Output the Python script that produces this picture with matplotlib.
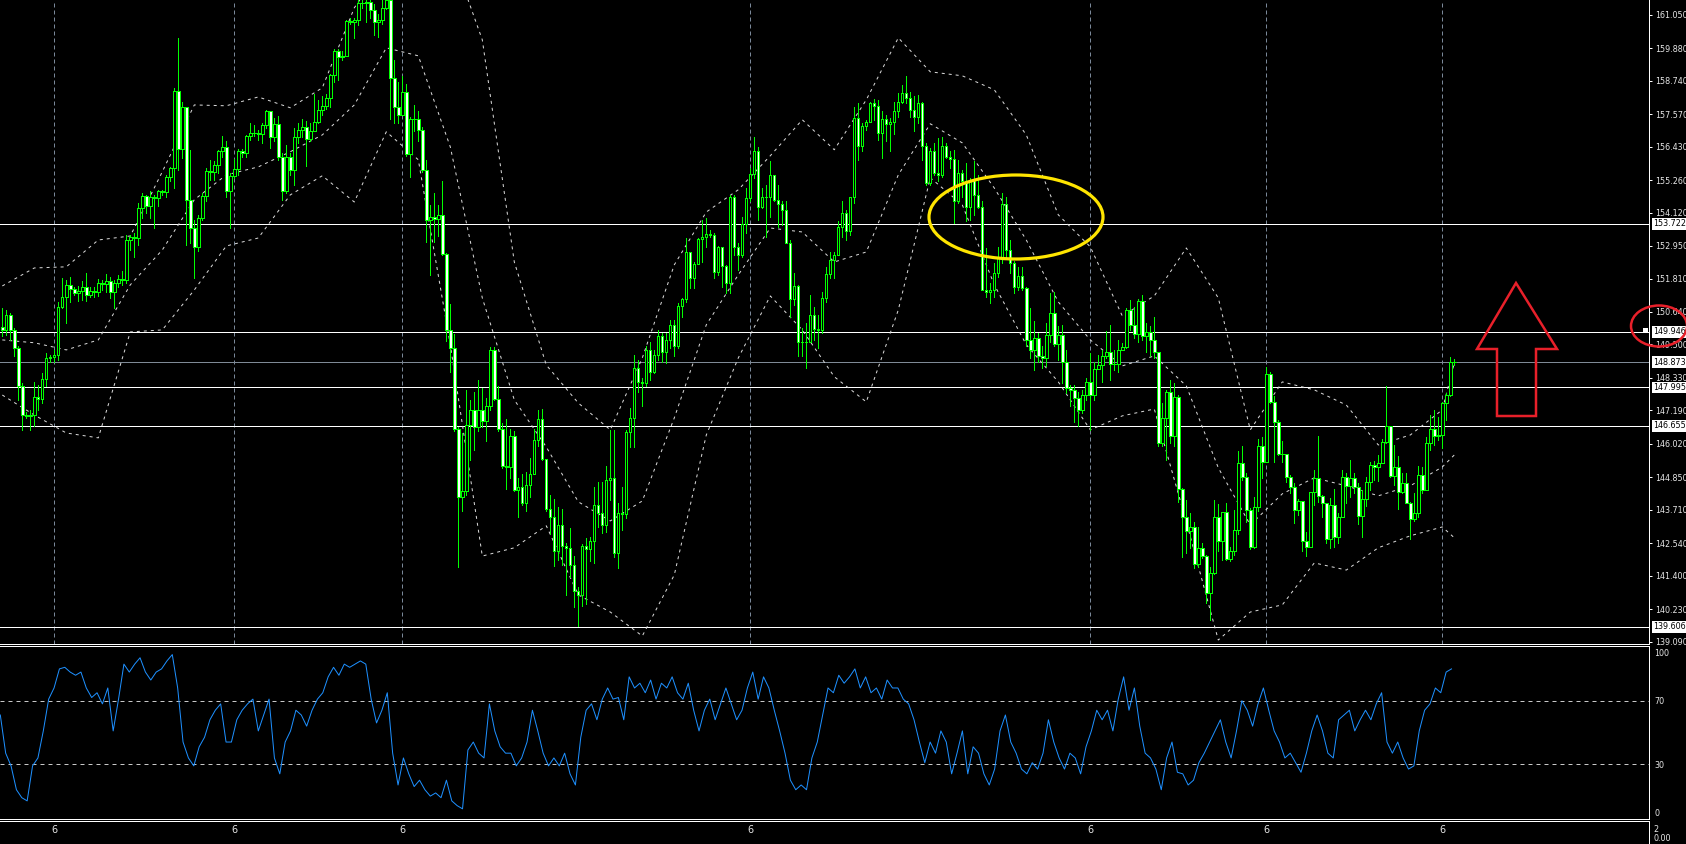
import numpy as np
import matplotlib
matplotlib.use("Agg")
from matplotlib import pyplot as plt
from matplotlib import transforms, font_manager
from matplotlib.patches import Ellipse, Polygon, Rectangle

# --- candles (open of each bar = close of the previous one) ---
first_open = 150.10
closes = [
    150.00, 150.54, 150.01, 149.37, 148.03, 147.04, 146.98, 147.02, 147.65, 147.60,
    148.28, 149.02, 149.06, 149.14, 150.81, 151.18, 151.58, 151.44, 151.30, 151.38,
    151.50, 151.24, 151.38, 151.33, 151.67, 151.62, 151.72, 151.33, 151.67, 151.79,
    151.76, 153.17, 153.26, 153.22, 154.27, 154.71, 154.36, 154.68, 154.62, 154.88,
    154.85, 155.38, 155.67, 158.38, 156.34, 157.83, 154.57, 153.57, 152.93, 153.92,
    154.71, 155.58, 155.53, 155.79, 156.26, 156.41, 154.86, 155.41, 155.64, 156.29,
    156.22, 156.81, 156.90, 156.92, 156.87, 157.18, 157.66, 156.78, 157.21, 156.08,
    154.86, 156.08, 155.62, 156.76, 157.02, 157.10, 156.68, 156.99, 157.30, 157.72,
    157.86, 158.12, 158.94, 159.77, 159.56, 159.62, 160.82, 160.80, 160.86, 161.45,
    161.45, 161.50, 161.21, 160.78, 160.85, 161.28, 161.55, 158.84, 157.83, 157.55,
    158.33, 156.18, 157.40, 157.40, 157.00, 155.60, 153.87, 153.95, 153.90, 154.02,
    152.68, 149.99, 149.37, 146.54, 144.17, 144.38, 146.68, 147.19, 146.61, 147.19,
    146.83, 147.33, 149.31, 147.59, 146.54, 145.24, 145.20, 146.29, 144.42, 144.52,
    143.95, 144.57, 144.96, 146.15, 146.90, 145.49, 143.73, 143.45, 142.27, 143.19,
    142.44, 142.38, 141.79, 140.86, 140.72, 142.44, 142.35, 142.60, 143.88, 143.59,
    143.18, 144.76, 144.82, 142.19, 143.61, 143.55, 146.45, 146.92, 148.67, 148.20,
    148.16, 149.31, 148.55, 149.14, 149.78, 149.25, 149.66, 150.19, 149.43, 150.85,
    151.09, 152.75, 151.82, 152.32, 153.19, 153.26, 153.37, 153.34, 152.05, 152.90,
    152.26, 151.65, 154.68, 152.93, 152.64, 153.72, 154.62, 155.48, 156.26, 154.33,
    154.68, 154.66, 155.44, 154.56, 154.41, 154.20, 153.07, 151.09, 151.55, 149.60,
    149.58, 149.60, 150.54, 150.04, 150.02, 151.14, 151.97, 152.46, 152.64, 153.61,
    154.10, 153.46, 154.68, 157.42, 156.46, 157.16, 157.28, 157.95, 157.85, 156.90,
    157.39, 157.23, 157.30, 157.66, 158.01, 158.32, 158.13, 157.72, 157.48, 157.95,
    156.46, 155.15, 156.29, 155.50, 155.45, 156.46, 156.08, 156.00, 154.54, 155.50,
    155.24, 154.33, 155.27, 154.72, 154.33, 151.41, 151.35, 151.40, 151.99, 152.58,
    154.43, 152.82, 152.35, 151.52, 151.90, 151.47, 149.66, 149.31, 149.72, 149.08,
    149.02, 149.84, 150.60, 149.52, 149.84, 148.90, 147.97, 147.92, 147.62, 147.19,
    147.73, 148.20, 147.73, 148.63, 148.77, 149.10, 149.22, 148.82, 148.80, 149.29,
    149.40, 150.71, 150.19, 149.87, 151.04, 149.80, 149.94, 149.64, 149.25, 146.04,
    146.92, 147.82, 146.28, 147.67, 144.43, 143.45, 142.98, 143.10, 141.82, 142.36,
    142.10, 140.79, 141.51, 143.45, 142.60, 143.65, 141.98, 142.25, 143.01, 145.36,
    144.87, 143.71, 142.40, 143.82, 145.93, 145.37, 148.47, 147.47, 146.77, 145.67,
    145.67, 144.85, 144.50, 143.71, 144.03, 142.60, 142.42, 144.35, 144.82, 144.20,
    143.96, 142.68, 143.88, 142.75, 143.45, 144.85, 144.55, 144.82, 144.52, 143.50,
    144.08, 144.70, 145.28, 145.20, 145.34, 146.07, 146.63, 144.90, 145.20, 144.35,
    144.64, 143.96, 143.38, 143.59, 144.93, 144.41, 146.06, 146.53, 146.30, 146.33,
    147.44, 147.73, 148.87, 148.87,
]
highs = [
    150.77, 150.71, 150.60, 150.07, 149.43, 148.15, 147.15, 147.21, 148.20, 148.09,
    148.49, 149.20, 149.14, 149.31, 151.00, 151.82, 151.76, 151.88, 151.53, 151.55,
    151.71, 152.00, 151.53, 151.53, 151.79, 151.76, 151.97, 151.88, 151.76, 151.94,
    152.06, 153.34, 153.34, 153.40, 154.45, 154.80, 154.74, 154.86, 154.74, 154.92,
    154.92, 155.45, 155.73, 158.48, 160.25, 158.01, 157.72, 156.32, 153.87, 154.04,
    154.80, 155.67, 155.97, 155.94, 156.32, 156.81, 156.61, 155.50, 155.99, 156.34,
    156.34, 156.84, 157.25, 157.19, 157.02, 157.25, 157.72, 157.66, 157.43, 157.51,
    156.20, 156.49, 156.20, 157.08, 157.25, 157.40, 157.33, 157.26, 158.26, 158.05,
    158.19, 158.26, 158.98, 159.84, 159.84, 159.77, 160.88, 160.92, 160.92, 161.57,
    161.60, 161.60, 161.60, 161.43, 161.07, 161.57, 161.60, 161.60, 159.48, 158.69,
    158.91, 158.62, 157.47, 157.90, 157.69, 157.11, 155.96, 154.38, 154.81, 154.38,
    155.24, 152.72, 150.93, 149.85, 146.61, 146.39, 147.90, 147.55, 147.83, 148.26,
    147.98, 147.62, 149.42, 149.42, 148.05, 146.75, 146.90, 146.54, 146.47, 144.81,
    144.96, 145.03, 145.53, 146.54, 147.19, 147.23, 145.46, 144.24, 144.09, 143.81,
    143.73, 142.55, 143.09, 142.08, 141.00, 142.51, 142.73, 142.77, 144.52, 144.70,
    144.70, 145.23, 146.51, 146.51, 143.94, 144.52, 146.51, 147.27, 149.14, 148.96,
    148.32, 149.43, 149.60, 149.31, 150.01, 149.90, 149.90, 150.36, 150.36, 150.94,
    151.12, 153.22, 152.75, 152.40, 153.22, 153.86, 153.92, 153.51, 153.40, 152.95,
    152.58, 152.29, 154.74, 154.74, 153.05, 153.98, 154.97, 155.67, 156.78, 156.43,
    154.97, 155.09, 155.91, 155.44, 155.09, 154.51, 154.51, 153.16, 151.99, 151.59,
    150.07, 150.25, 151.24, 150.83, 150.54, 151.35, 152.23, 152.75, 152.75, 153.81,
    154.51, 154.21, 154.68, 157.83, 157.95, 157.25, 157.37, 158.01, 158.09, 158.07,
    157.66, 157.54, 157.43, 158.01, 158.30, 158.59, 158.91, 158.36, 158.19, 158.24,
    158.01, 156.55, 156.38, 156.55, 156.73, 156.78, 156.55, 156.26, 156.32, 155.97,
    155.62, 155.85, 155.32, 155.91, 155.44, 154.51, 152.87, 151.65, 152.35, 152.93,
    154.80, 154.68, 153.17, 152.41, 152.23, 152.23, 151.53, 150.77, 150.31, 149.90,
    149.43, 150.25, 151.30, 151.35, 150.13, 150.19, 149.31, 148.09, 148.09, 147.85,
    147.91, 148.32, 149.20, 148.90, 149.14, 149.31, 149.96, 150.19, 149.31, 149.66,
    149.55, 150.77, 151.06, 150.83, 151.09, 151.24, 150.25, 150.13, 150.48, 149.25,
    147.44, 147.91, 148.26, 148.14, 147.73, 144.47, 144.06, 143.59, 143.30, 143.10,
    142.54, 142.13, 141.72, 144.06, 143.92, 143.65, 143.94, 142.42, 143.71, 145.78,
    145.95, 145.01, 143.76, 144.17, 146.18, 146.25, 148.70, 148.55, 147.70, 146.86,
    146.12, 145.52, 144.93, 144.64, 144.08, 144.00, 142.95, 144.35, 145.11, 146.30,
    144.23, 143.85, 144.12, 144.43, 143.59, 145.11, 144.99, 145.46, 144.99, 144.66,
    144.41, 144.87, 145.40, 145.43, 145.63, 146.18, 148.05, 146.22, 145.98, 145.58,
    144.99, 144.99, 144.00, 144.29, 145.25, 145.22, 146.25, 147.03, 147.21, 146.95,
    147.50, 147.79, 149.05, 148.98,
]
lows = [
    149.78, 149.84, 149.66, 149.08, 147.56, 146.51, 146.92, 146.51, 146.63, 147.21,
    147.44, 148.03, 148.90, 148.90, 148.96, 150.77, 150.24, 151.00, 151.24, 151.04,
    151.06, 151.04, 151.16, 151.18, 151.20, 151.41, 151.35, 151.12, 150.77, 151.53,
    151.59, 151.67, 152.82, 152.58, 152.97, 153.92, 154.10, 153.92, 153.57, 154.36,
    154.74, 154.68, 155.21, 154.97, 155.62, 156.02, 152.99, 153.05, 151.82, 152.76,
    153.86, 154.51, 155.27, 155.27, 155.50, 156.08, 154.68, 153.57, 155.33, 155.44,
    156.08, 156.08, 156.67, 156.81, 156.67, 156.55, 157.08, 156.38, 156.61, 155.97,
    154.57, 154.80, 155.44, 155.09, 156.55, 156.75, 155.75, 156.61, 156.97, 157.26,
    157.54, 157.76, 157.83, 158.69, 158.77, 159.48, 159.63, 160.71, 160.25, 160.68,
    161.28, 160.78, 160.92, 160.35, 160.28, 160.71, 161.25, 157.40, 157.26, 157.26,
    157.69, 156.10, 155.38, 156.97, 156.61, 155.53, 153.08, 151.93, 153.08, 153.30,
    152.65, 149.63, 148.55, 146.47, 141.72, 143.66, 144.24, 145.46, 145.82, 146.47,
    146.61, 146.11, 147.19, 147.55, 146.47, 145.17, 144.45, 144.81, 144.38, 143.45,
    143.88, 143.66, 144.17, 144.96, 145.96, 145.46, 143.66, 142.87, 141.75, 141.94,
    141.79, 140.74, 141.36, 140.31, 139.63, 140.35, 140.42, 141.90, 141.84, 143.12,
    142.89, 142.95, 144.06, 142.07, 141.66, 143.01, 143.41, 145.92, 145.92, 147.85,
    147.33, 148.03, 148.26, 148.49, 148.96, 148.90, 148.84, 149.37, 149.08, 149.37,
    150.48, 151.00, 151.47, 151.47, 152.81, 152.40, 152.93, 153.28, 151.82, 151.94,
    151.53, 151.32, 151.32, 152.64, 152.11, 152.58, 153.40, 154.51, 155.32, 153.86,
    154.27, 153.28, 153.98, 154.51, 153.63, 153.69, 153.05, 150.48, 150.89, 149.08,
    149.08, 148.67, 149.60, 149.66, 149.37, 149.90, 151.00, 151.82, 151.82, 152.64,
    153.28, 153.16, 153.34, 154.45, 155.97, 156.26, 157.01, 157.31, 157.37, 156.67,
    156.02, 156.61, 156.26, 156.88, 157.48, 157.95, 157.95, 157.48, 156.96, 157.25,
    155.97, 155.09, 155.09, 155.44, 155.21, 155.38, 156.03, 155.68, 153.75, 154.45,
    154.68, 153.81, 153.87, 154.04, 154.27, 151.88, 151.18, 150.95, 151.18, 151.88,
    152.35, 152.58, 151.99, 151.30, 151.41, 151.41, 149.43, 149.02, 148.61, 148.90,
    148.67, 148.73, 149.60, 149.43, 148.96, 148.14, 147.80, 147.33, 146.80, 146.63,
    147.10, 147.56, 146.51, 147.56, 148.73, 148.20, 149.02, 148.26, 148.61, 148.55,
    149.31, 149.37, 150.01, 149.72, 149.60, 149.66, 149.25, 149.08, 149.02, 145.93,
    145.93, 145.46, 146.04, 145.93, 144.00, 142.07, 142.19, 142.36, 141.66, 141.70,
    142.01, 140.44, 139.85, 141.47, 142.28, 141.96, 141.95, 141.90, 142.13, 142.87,
    144.76, 143.30, 142.33, 142.36, 143.68, 144.81, 146.18, 147.44, 145.40, 145.63,
    145.40, 144.70, 144.29, 143.26, 143.53, 142.25, 142.10, 142.71, 143.88, 144.00,
    143.45, 142.54, 142.36, 142.42, 142.54, 143.45, 143.96, 144.17, 144.31, 143.22,
    142.77, 143.85, 144.41, 144.76, 144.73, 145.36, 146.04, 144.87, 144.58, 143.75,
    144.29, 143.94, 142.68, 143.33, 143.45, 144.29, 144.41, 145.81, 145.98, 146.14,
    145.87, 146.86, 147.68, 148.79,
]

# --- Bollinger bands, read every 8th bar (plus the last bar) ---
band_bars = list(range(0, 361, 8)) + [363]
band_upper = [
    151.55, 152.18, 152.22, 153.16, 153.30, 155.55, 157.89, 157.86, 158.17, 157.79,
    158.49, 161.29, 162.90, 163.22, 163.32, 160.17, 152.39, 148.78, 147.45, 146.51,
    149.03, 152.29, 154.14, 154.92, 156.11, 157.37, 156.32, 158.07, 160.24, 159.05,
    158.91, 158.42, 156.84, 154.04, 152.92, 150.50, 151.20, 152.88, 151.13, 146.51,
    148.19, 147.91, 147.38, 145.98, 146.33, 147.21, 148.86,
]
band_mid = [
    149.66, 149.56, 149.31, 149.66, 151.59, 152.81, 154.57, 155.44, 155.72, 156.25,
    156.84, 157.89, 159.89, 159.61, 156.42, 151.13, 147.56, 145.91, 143.99, 143.32,
    144.02, 146.93, 150.19, 151.94, 153.58, 153.44, 152.39, 152.74, 155.44, 157.23,
    156.56, 154.98, 153.16, 150.99, 149.66, 148.75, 149.10, 148.05, 145.18, 143.18,
    144.27, 144.83, 144.55, 144.20, 144.55, 145.21, 145.63,
]
band_lower = [
    147.73, 147.03, 146.40, 146.23, 149.94, 150.01, 151.41, 152.95, 153.23, 154.74,
    155.41, 154.49, 156.95, 155.97, 149.49, 142.09, 142.38, 143.15, 140.73, 140.13,
    139.29, 141.43, 146.33, 149.03, 151.20, 150.01, 148.37, 147.49, 150.71, 155.34,
    154.39, 151.59, 149.49, 148.19, 146.51, 147.00, 147.24, 143.29, 139.15, 140.13,
    140.38, 141.85, 141.60, 142.38, 142.80, 143.11, 142.73,
]

# --- RSI, read at evenly spaced points from the first to the last bar ---
rsi = [
    61, 37, 29, 14, 9, 7, 29, 34, 51, 71, 78, 90, 91, 88, 86, 88, 78, 72, 75, 68,
    78, 51, 71, 93, 88, 93, 97, 88, 83, 88, 90, 95, 99, 78, 44, 34, 29, 41, 47, 58,
    64, 68, 44, 44, 58, 64, 68, 71, 51, 61, 71, 34, 24, 44, 51, 64, 61, 54, 64, 71,
    75, 85, 91, 86, 93, 91, 93, 95, 93, 71, 56, 64, 75, 37, 17, 34, 24, 16, 20, 14,
    10, 12, 9, 20, 7, 4, 2, 39, 44, 37, 34, 68, 51, 41, 37, 37, 29, 34, 44, 64,
    51, 37, 29, 34, 29, 37, 24, 17, 47, 64, 68, 58, 71, 78, 71, 72, 58, 85, 78, 81,
    75, 83, 71, 81, 78, 85, 75, 71, 81, 64, 51, 64, 71, 58, 68, 78, 68, 58, 64, 78,
    88, 71, 85, 78, 64, 51, 37, 20, 14, 17, 14, 34, 44, 61, 78, 75, 86, 81, 85, 90,
    78, 85, 75, 78, 71, 83, 78, 78, 71, 68, 58, 44, 31, 44, 37, 51, 44, 24, 37, 51,
    24, 41, 37, 24, 17, 27, 51, 61, 44, 37, 27, 24, 31, 27, 37, 58, 44, 34, 27, 37,
    34, 24, 41, 51, 64, 58, 64, 51, 71, 85, 64, 78, 54, 37, 34, 27, 14, 34, 44, 25,
    24, 17, 20, 31, 37, 44, 51, 58, 44, 34, 51, 70, 64, 54, 68, 78, 64, 51, 44, 34,
    37, 31, 25, 37, 51, 61, 51, 37, 34, 58, 61, 64, 51, 58, 64, 58, 68, 75, 44, 37,
    44, 34, 27, 29, 51, 64, 68, 78, 75, 88, 90,
]

levels = [153.722, 149.946, 147.995, 146.655, 139.606]
last_price = 148.873
price_ticks = [161.050, 159.880, 158.740, 157.570, 156.430, 155.260, 154.120,
               152.950, 151.810, 150.640, 149.500, 148.330, 147.190, 146.020,
               144.850, 143.710, 142.540, 141.400, 140.230, 139.090]
rsi_ticks = [100, 70, 30, 0]
rsi_levels = [70, 30]
day_bars = [13, 58, 100, 187, 272, 316, 360]
day_labels = ["6", "6", "6", "6", "6", "6", "6"]

W, H = 1686, 844
LIME = "#00FF00"
TXT = "#E6E6E6"
PX = 0.72  # one pixel in points at dpi 100

# narrow face for the price column so the labels fit in the strip
installed = {f.name for f in font_manager.fontManager.ttflist}
if "Liberation Sans Narrow" in installed:
    SCALE_FONT, SCALE_SIZE = "Liberation Sans Narrow", 7.2
else:
    SCALE_FONT, SCALE_SIZE = "DejaVu Sans", 5.8

fig = plt.figure(figsize=(W / 100, H / 100), dpi=100, facecolor="black")


def px_axes(left, top, right, bottom):
    a = fig.add_axes([left / W, 1 - bottom / H, (right - left) / W, (bottom - top) / H])
    a.set_facecolor("black")
    for s in a.spines.values():
        s.set_visible(False)
    a.set_xlim(-0.575, 411.675)
    a.set_xticks([])
    return a


ax = px_axes(0, 0, 1649, 644)
ax_rsi = px_axes(0, 646, 1649, 819)
ax_t = px_axes(0, 821, 1649, 844)

ax.set_ylim(139.01, 161.565)
ax_rsi.set_ylim(-4.4, 104.4)
ax_t.set_ylim(0, 1)

for a, sides in ((ax, ["bottom", "right"]), (ax_rsi, ["top", "bottom", "right"]),
                 (ax_t, ["top", "right"])):
    for s in sides:
        a.spines[s].set_visible(True)
        a.spines[s].set_color("white")
        a.spines[s].set_linewidth(PX)

# grid
for g in day_bars:
    ax.axvline(g, color="#7A8899", lw=PX, ls=(0, (4, 3)), zorder=1)

# levels
for v in levels:
    ax.axhline(v, color="white", lw=PX, zorder=1.5)
ax.axhline(last_price, color="#7F8A96", lw=PX, zorder=1.5)

# candles
c = np.array(closes)
o = np.r_[first_open, c[:-1]]
hi = np.maximum(np.array(highs), np.maximum(o, c))
lo = np.minimum(np.array(lows), np.minimum(o, c))
x = np.arange(len(c))
ax.vlines(x, lo, hi, colors=LIME, lw=PX, antialiased=False, zorder=3)
face = np.where(c >= o, "black", "white")
ax.bar(x, c - o, bottom=o, width=0.6, color=face, edgecolor=LIME,
       linewidth=PX, antialiased=False, zorder=4)

# bands
for band in (band_upper, band_mid, band_lower):
    ax.plot(band_bars, band, color="#DADADA", lw=PX, ls=(0, (3, 4)), zorder=2)

# right price scale
ax.yaxis.tick_right()
ax.set_yticks(price_ticks)
ax.set_yticklabels([f"{v:.3f}" for v in price_ticks], family=SCALE_FONT)
ax.tick_params(axis="y", colors="white", labelcolor=TXT, length=2.5, width=PX,
               pad=2.2, labelsize=SCALE_SIZE)

label_tr = transforms.offset_copy(ax.get_yaxis_transform(), fig=fig, x=4, y=0, units="dots")
for v in levels + [last_price]:
    ax.text(1.0, v, f"{v:.3f}", transform=label_tr, ha="left", va="center",
            family=SCALE_FONT, fontsize=SCALE_SIZE, color="black", zorder=6,
            clip_on=False,
            bbox=dict(boxstyle="square,pad=0.18", fc="white", ec="none"))

# RSI
rsi_x = np.linspace(-0.5, 362.3, len(rsi))
ax_rsi.plot(rsi_x, rsi, color="#1E90FF", lw=PX, zorder=3)
for v in rsi_levels:
    ax_rsi.axhline(v, color="#C8C8C8", lw=PX, ls=(0, (4, 4)), zorder=2)
ax_rsi.yaxis.tick_right()
ax_rsi.set_yticks(rsi_ticks)
ax_rsi.set_yticklabels([str(v) for v in rsi_ticks], family=SCALE_FONT)
ax_rsi.tick_params(axis="y", length=0, pad=4, labelcolor=TXT, labelsize=SCALE_SIZE)

# time strip
ax_t.set_yticks([])
for g, lab in zip(day_bars, day_labels):
    ax_t.text(g, 0.63, lab, ha="center", va="center", color=TXT, fontsize=7)
fig.text(1653 / W, 1 - 829 / H, "2", ha="left", va="center", color=TXT,
         family=SCALE_FONT, fontsize=SCALE_SIZE)
fig.text(1653 / W, 1 - 838.5 / H, "0.00", ha="left", va="center", color=TXT,
         family=SCALE_FONT, fontsize=SCALE_SIZE)

# hand-drawn marks on top (pixel coordinates)
ov = fig.add_axes([0, 0, 1, 1])
ov.set_xlim(0, W)
ov.set_ylim(H, 0)
ov.axis("off")
ov.patch.set_alpha(0)
ov.add_patch(Ellipse((1016, 217), 174, 84, fill=False, ec="#FFE500", lw=2.3))
ov.add_patch(Polygon([(1516, 283), (1557, 349), (1536, 349), (1536, 416),
                      (1497, 416), (1497, 349), (1477, 349)], closed=True,
                     fill=False, ec="#E8202A", lw=1.8))
ov.add_patch(Ellipse((1659, 326), 56, 41, fill=False, ec="#E8202A", lw=1.8,
                     clip_on=False))
ov.add_patch(Rectangle((1643, 328), 5, 5, fc="white", ec="none"))

fig.savefig("out.png", dpi=100, facecolor="black")
